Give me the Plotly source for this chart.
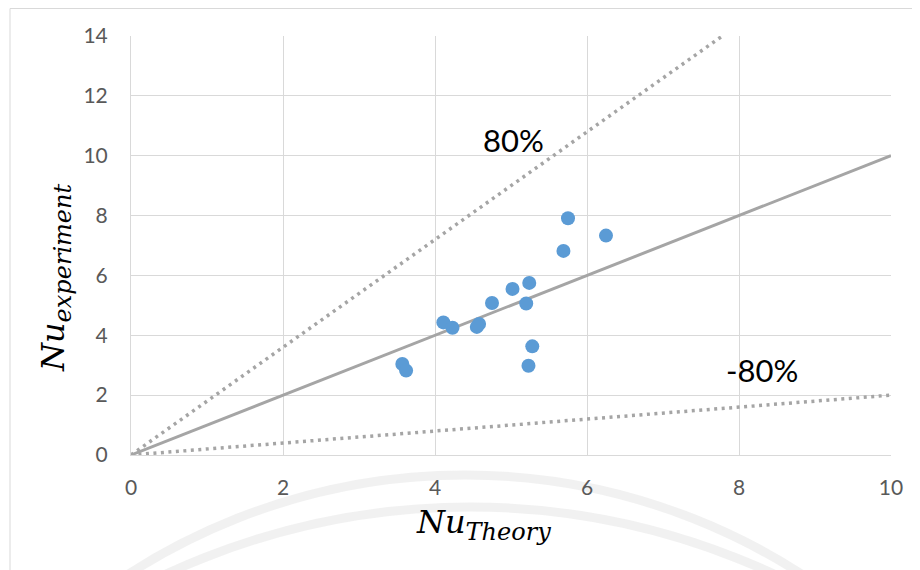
import plotly.graph_objects as go

# Measured vs theoretical Nusselt numbers
nu_theory = [5.75, 6.25, 5.69, 5.24, 5.02, 4.75, 5.20, 4.11, 4.23, 4.58, 4.55, 5.28, 5.23, 3.57, 3.62]
nu_exp = [7.91, 7.33, 6.82, 5.75, 5.55, 5.08, 5.06, 4.43, 4.25, 4.38, 4.28, 3.63, 2.98, 3.04, 2.82]

# reference lines: perfect agreement and +/-80% bounds
ref_x = [0, 10]
ref_y = [0, 10]
upper_x = [0, 7.78]
upper_y = [0, 14]
lower_x = [0, 10]
lower_y = [0, 2]

tick_font = dict(family="Lato, Calibri, sans-serif", size=21, color="#595959")
grid_col = "#d9d9d9"
line_col = "#a5a5a5"

# page has an 8px body margin, figure is shrunk to fit the 920x570 window
W, H = 912, 562


def px(xs):  # screen x -> paper x
    return (xs - 131) / 760


def py(ys):  # screen y -> paper y
    return (455 - ys) / 419


fig = go.Figure()

fig.add_trace(go.Scatter(x=upper_x, y=upper_y, mode="lines",
                         line=dict(color=line_col, width=3.5, dash="3px,4.5px"), hoverinfo="skip"))
fig.add_trace(go.Scatter(x=lower_x, y=lower_y, mode="lines",
                         line=dict(color=line_col, width=3.5, dash="3px,4.5px"), hoverinfo="skip"))
fig.add_trace(go.Scatter(x=ref_x, y=ref_y, mode="lines",
                         line=dict(color=line_col, width=3), hoverinfo="skip"))
fig.add_trace(go.Scatter(x=nu_theory, y=nu_exp, mode="markers",
                         marker=dict(color="#5b9bd5", size=14, line=dict(width=0))))

fig.update_xaxes(range=[0, 10], dtick=2, showgrid=True, gridcolor=grid_col, gridwidth=1,
                 zeroline=False, showline=True, linecolor=grid_col, linewidth=1,
                 tickfont=tick_font, ticks="", ticklabelstandoff=14)
fig.update_yaxes(range=[0, 14], dtick=2, showgrid=True, gridcolor=grid_col, gridwidth=1,
                 zeroline=False, showline=True, linecolor=grid_col, linewidth=1,
                 tickfont=tick_font, ticks="", ticklabelstandoff=18)

title_font = dict(family="DejaVu Serif, serif", size=32, color="#000000")
sub = "<sub><span style='font-size:24px'><i>%s</i></span></sub>"

fig.add_annotation(text="<i>Nu</i>" + sub % "Theory",
                   xref="paper", yref="paper", x=px(483), y=py(524),
                   xanchor="center", yanchor="middle", showarrow=False, font=title_font)
fig.add_annotation(text="<i>Nu</i>" + sub % "experiment",
                   xref="paper", yref="paper", x=px(55), y=py(278),
                   xanchor="center", yanchor="middle", showarrow=False, font=title_font,
                   textangle=-90)

label_font = dict(family="Lato, Calibri, sans-serif", size=31, color="#000000")
fig.add_annotation(text="80%", xref="paper", yref="paper", x=px(513), y=py(140),
                   xanchor="center", yanchor="middle", showarrow=False, font=label_font)
fig.add_annotation(text="-80%", xref="paper", yref="paper", x=px(762), y=py(370),
                   xanchor="center", yanchor="middle", showarrow=False, font=label_font)

wm = "rgba(215,215,215,0.35)"
shapes = [
    # chart area border
    dict(type="rect", xref="paper", yref="paper", x0=px(10), x1=px(925),
         y0=py(590), y1=py(8.5), line=dict(color="#d9d9d9", width=1), layer="below"),
    # faint watermark arcs
    dict(type="circle", xref="paper", yref="paper",
         x0=px(465 - 620), x1=px(465 + 620), y0=py(475 + 1240), y1=py(475),
         line=dict(color=wm, width=9), layer="below"),
    dict(type="circle", xref="paper", yref="paper",
         x0=px(470 - 722), x1=px(470 + 722), y0=py(507 + 1444), y1=py(507),
         line=dict(color=wm, width=9), layer="below"),
]

fig.update_layout(
    width=W, height=H,
    margin=dict(l=123, r=29, t=28, b=115),
    paper_bgcolor="white", plot_bgcolor="rgba(0,0,0,0)",
    showlegend=False,
    shapes=shapes,
)

fig.write_html("out.html")
